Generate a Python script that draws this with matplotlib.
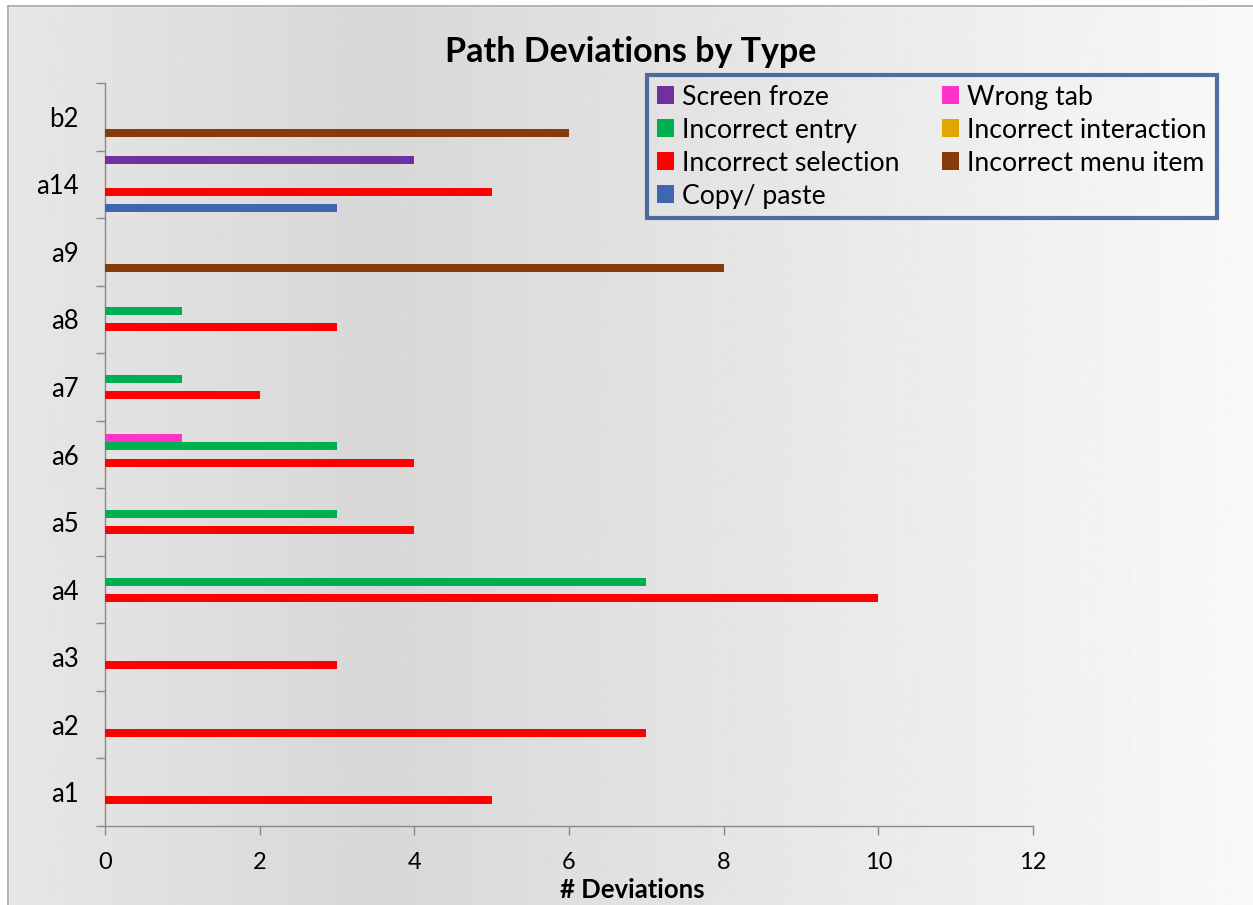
import numpy as np
import matplotlib
matplotlib.use("Agg")
import matplotlib.pyplot as plt
from matplotlib.patches import Patch, Rectangle
from matplotlib.lines import Line2D

plt.rcParams['font.family'] = ['Lato', 'DejaVu Sans']

# categories, bottom to top
categories = ["a1", "a2", "a3", "a4", "a5", "a6", "a7", "a8", "a9", "a14", "b2"]

# series values per category (same order as categories)
screen_froze          = [0, 0, 0, 0, 0, 0, 0, 0, 0, 4, 0]
wrong_tab             = [0, 0, 0, 0, 0, 1, 0, 0, 0, 0, 0]
incorrect_entry       = [0, 0, 0, 7, 3, 3, 1, 1, 0, 0, 0]
incorrect_interaction = [0, 0, 0, 0, 0, 0, 0, 0, 0, 0, 0]
incorrect_selection   = [5, 7, 3, 10, 4, 4, 2, 3, 0, 5, 0]
incorrect_menu_item   = [0, 0, 0, 0, 0, 0, 0, 0, 8, 0, 6]
copy_paste            = [0, 0, 0, 0, 0, 0, 0, 0, 0, 3, 0]

series_names = ["Screen froze", "Wrong tab", "Incorrect entry", "Incorrect interaction",
                "Incorrect selection", "Incorrect menu item", "Copy/ paste"]
series_values = [screen_froze, wrong_tab, incorrect_entry, incorrect_interaction,
                 incorrect_selection, incorrect_menu_item, copy_paste]
series_colors = ["#7030A0", "#FF33CC", "#00B050", "#E3A600",
                 "#FF0000", "#843C0C", "#3F67B1"]

x_ticks = [0, 2, 4, 6, 8, 10, 12]

W, H = 1253, 905
fig = plt.figure(figsize=(W / 100, H / 100), dpi=100)

# gradient background over the whole chart area
bg = fig.add_axes([0, 0, 1, 1], zorder=-10)
xs = np.linspace(0, 1, 600)
shade = np.interp(xs, [0, 0.3, 1.0], [0.905, 0.845, 0.975])
grad = np.tile(shade, (2, 1))
bg.imshow(grad, cmap="gray", vmin=0, vmax=1, aspect="auto",
          extent=[0, 1, 0, 1], interpolation="bilinear")
bg.set_xlim(0, 1)
bg.set_ylim(0, 1)
bg.axis("off")
# white margin outside chart border (top and left) plus border lines
bg.add_patch(Rectangle((0, 0), 8 / W, 1, color="white", zorder=2))
bg.add_patch(Rectangle((0, 1 - 6 / H), 1, 6 / H, color="white", zorder=2))
bg.add_line(Line2D([8 / W, 8 / W], [0, 1 - 6 / H], color="#a6a6a6", lw=1.2, zorder=3))
bg.add_line(Line2D([8 / W, 1], [1 - 6 / H, 1 - 6 / H], color="#a6a6a6", lw=1.2, zorder=3))

ax = fig.add_axes([105 / W, 79 / H, 928 / W, 743 / H])
ax.patch.set_alpha(0)

slot = 8 / 67.5
y = np.arange(len(categories))
for i, (name, vals, col) in enumerate(zip(series_names, series_values, series_colors)):
    ax.barh(y + (3 - i) * slot, vals, height=slot, color=col, label=name, zorder=3)

ax.set_xlim(0, 12)
ax.set_ylim(-0.5, len(categories) - 0.5)
ax.set_xticks(x_ticks)
ax.set_xticklabels([str(t) for t in x_ticks], fontsize=17)
ax.set_yticks(y)
ax.set_yticklabels(categories, fontsize=18.5)
ax.set_yticks(np.arange(-0.5, len(categories)), minor=True)
ax.tick_params(axis="y", which="major", length=0, pad=19)
ax.tick_params(axis="y", which="minor", length=6.5, color="#898989", width=1)
ax.tick_params(axis="x", which="major", length=6.5, color="#898989", width=1, pad=12)

for s in ["top", "right"]:
    ax.spines[s].set_visible(False)
for s in ["left", "bottom"]:
    ax.spines[s].set_color("#898989")
    ax.spines[s].set_linewidth(1)

fig.text(632 / W, 1 - 890 / H, "# Deviations", fontsize=18.5, fontweight="bold",
         ha="center", va="center")

fig.text(631 / W, 1 - 52 / H, "Path Deviations by Type", fontsize=24.5,
         fontweight="bold", ha="center", va="center")

# legend: column-major fill to get row order like the original
order = [0, 2, 4, 6, 1, 3, 5]
handles = [Patch(facecolor=series_colors[k], edgecolor="none") for k in order]
labels = [series_names[k] for k in order]
leg = fig.legend(handles, labels, ncol=2, loc="upper left",
                 bbox_to_anchor=(647 / W, 1 - 75 / H), borderaxespad=0,
                 fontsize=19.2, frameon=True, fancybox=False,
                 handlelength=0.65, handleheight=0.65, handletextpad=0.3,
                 labelspacing=0.3, columnspacing=1.6, borderpad=0.36)
frame = leg.get_frame()
frame.set_facecolor("none")
frame.set_edgecolor("#284C8C")
frame.set_linewidth(3.0)

fig.savefig("out.png", dpi=100)
